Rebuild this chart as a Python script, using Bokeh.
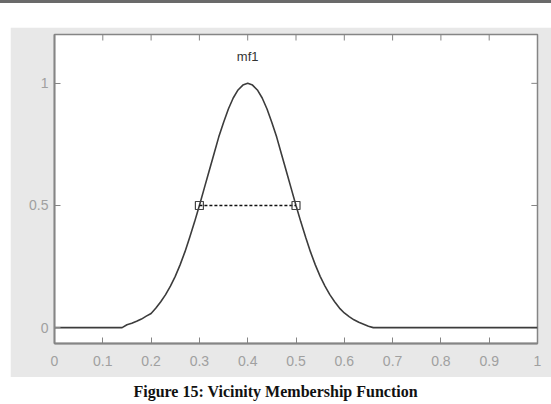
from bokeh.plotting import figure
from bokeh.models import Range1d, LinearAxis, FixedTicker, Div, Label
from bokeh.layouts import column
from bokeh.embed import file_html
from bokeh.resources import INLINE

# curve (membership function "mf1")
curve_x = [0.0, 0.10, 0.14, 0.15, 0.16, 0.17, 0.18, 0.19, 0.20, 0.21, 0.22, 0.23, 0.24,
           0.25, 0.26, 0.27, 0.28, 0.29, 0.30, 0.31, 0.32, 0.33, 0.34, 0.35, 0.36,
           0.37, 0.38, 0.39, 0.40, 0.41, 0.42, 0.43, 0.44, 0.45, 0.46, 0.47, 0.48,
           0.49, 0.50, 0.51, 0.52, 0.53, 0.54, 0.55, 0.56, 0.57, 0.58, 0.59, 0.60,
           0.61, 0.62, 0.63, 0.64, 0.65, 0.66, 0.70, 1.0]
curve_y = [0.0, 0.0, 0.0, 0.012, 0.018, 0.026, 0.035, 0.047, 0.058, 0.08, 0.106, 0.135, 0.17,
           0.21, 0.257, 0.31, 0.37, 0.433, 0.5, 0.57, 0.64, 0.71, 0.78, 0.84, 0.895,
           0.94, 0.973, 0.993, 1.0, 0.993, 0.973, 0.94, 0.895, 0.84, 0.78, 0.71, 0.64,
           0.57, 0.5, 0.433, 0.37, 0.31, 0.257, 0.21, 0.17, 0.135, 0.106, 0.08, 0.06,
           0.045, 0.032, 0.022, 0.014, 0.006, 0.0, 0.0, 0.0]
# half-width markers
marker_x = [0.3, 0.5]
marker_y = [0.5, 0.5]
mf_name = "mf1"
x_ticks = [0, 0.1, 0.2, 0.3, 0.4, 0.5, 0.6, 0.7, 0.8, 0.9, 1.0]
x_tick_labels = ["0", "0.1", "0.2", "0.3", "0.4", "0.5", "0.6", "0.7", "0.8", "0.9", "1"]
y_ticks = [0, 0.5, 1]
y_tick_labels = ["0", "0.5", "1"]
caption = "Figure 15: Vicinity Membership Function"

GRAY_BG = "#e8e8e8"
AX = "#858585"
LBL = "#a0a0a0"
TICK_FONT = "Liberation Sans"
TICK_LEN = 6  # px

X0, X1 = 0, 1
Y0, Y1 = -0.065, 1.2
FW, FH = 541, 350
ML, MR, MT, MB = 44, 14, 7, 34

p = figure(width=FW, height=FH, output_backend="svg", toolbar_location=None,
           x_range=Range1d(X0, X1), y_range=Range1d(Y0, Y1),
           x_axis_location=None, y_axis_location=None,
           min_border_left=ML, min_border_right=MR, min_border_top=MT, min_border_bottom=MB,
           border_fill_color=GRAY_BG, background_fill_color="white",
           outline_line_color=AX, outline_line_width=1.5)
p.margin = (0, 0, 0, 10)
p.grid.visible = False

def style_axis(ax, ticks, labels):
    ax.ticker = FixedTicker(ticks=ticks)
    ax.major_label_overrides = {t: l for t, l in zip(ticks, labels)}
    ax.minor_tick_line_color = None
    ax.major_tick_in = TICK_LEN
    ax.major_tick_out = 0
    ax.major_tick_line_color = AX
    ax.axis_line_color = AX
    ax.axis_line_width = 1.8
    ax.major_label_text_color = LBL
    ax.major_label_text_font = TICK_FONT
    ax.major_label_text_font_size = "14px"

bx = LinearAxis()
style_axis(bx, x_ticks, x_tick_labels)
bx.major_label_standoff = 12
p.add_layout(bx, "below")

ly = LinearAxis()
style_axis(ly, y_ticks, y_tick_labels)
ly.major_label_standoff = 6
p.add_layout(ly, "left")

# inward ticks on the top and right frame edges
frame_w = FW - 10 - ML - MR
frame_h = FH - MT - MB
dy = (Y1 - Y0) * TICK_LEN / frame_h
dx = (X1 - X0) * TICK_LEN / frame_w
p.segment(x0=x_ticks, y0=[Y1] * len(x_ticks), x1=x_ticks, y1=[Y1 - dy] * len(x_ticks),
          line_color=AX, line_width=1)
p.segment(x0=[X1] * len(y_ticks), y0=y_ticks, x1=[X1 - dx] * len(y_ticks), y1=y_ticks,
          line_color=AX, line_width=1)

p.line(curve_x, curve_y, line_color="#3c3c3c", line_width=1.6)
p.line(marker_x, marker_y, line_color="#111111", line_width=1.3, line_dash="3 2")
p.scatter(marker_x, marker_y, marker="square", size=8, fill_color=None,
          line_color="#444444", line_width=1.2)

p.add_layout(Label(x=0.4, y=1.11, text=mf_name, text_align="center", text_baseline="middle",
                   text_font=TICK_FONT, text_font_size="13px", text_color="#333333"))

top = Div(text="", width=551, height=27, margin=(0, 0, 0, 0),
          styles={"border-top": "3px solid #6a6a6a", "box-sizing": "border-box"})
cap = Div(text=caption, width=551, height=27, margin=(0, 0, 0, 0),
          styles={"text-align": "center", "font-family": "Liberation Serif",
                  "font-weight": "bold", "font-size": "16px", "color": "#111",
                  "padding-top": "4px", "box-sizing": "border-box"})

layout = column(top, p, cap, spacing=0)
open("out.html", "w").write(file_html(layout, INLINE))
